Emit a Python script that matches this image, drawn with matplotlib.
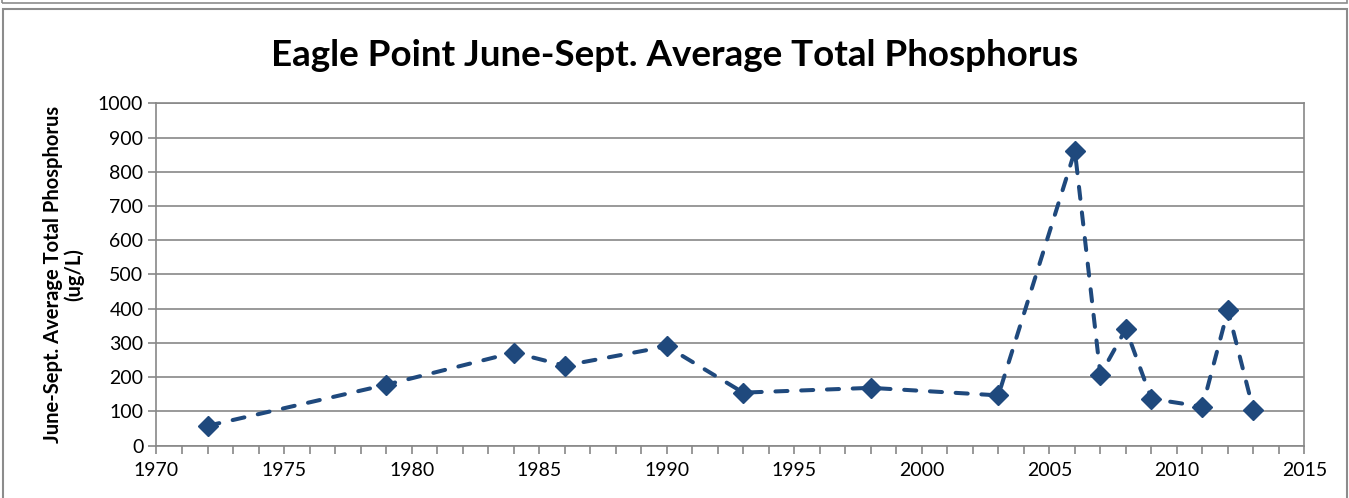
import matplotlib
matplotlib.use("Agg")
import matplotlib.pyplot as plt
from matplotlib.patches import Rectangle

years = [1972, 1979, 1984, 1986, 1990, 1993, 1998, 2003, 2006, 2007, 2008, 2009, 2011, 2012, 2013]
phosphorus = [58, 178, 272, 234, 290, 155, 169, 147, 861, 207, 341, 137, 114, 396, 103]

title = "Eagle Point June-Sept. Average Total Phosphorus"
ylabel = "June-Sept. Average Total Phosphorus\n(ug/L)"
line_color = "#1F497D"
grid_color = "#888888"

plt.rcParams["font.family"] = ["Lato", "DejaVu Sans"]

fig = plt.figure(figsize=(13.49, 4.98), dpi=100)
ax = fig.add_axes([0.1160, 0.105, 0.8510, 0.6876])

ax.plot(years, phosphorus, color=line_color, linewidth=2.9,
        linestyle=(0, (3.0, 3.4)), dash_capstyle="round", zorder=3)
ax.plot(years, phosphorus, linestyle="none", marker="D", markersize=10.5,
        color=line_color, zorder=4)

ax.set_xlim(1970, 2015)
ax.set_ylim(0, 1000)
ax.set_xticks(range(1970, 2016, 5))
ax.set_xticks(range(1970, 2016, 1), minor=True)
ax.set_yticks(range(0, 1001, 100))
ax.yaxis.grid(True, color=grid_color, linewidth=1.2)
ax.set_axisbelow(True)

for s in ax.spines.values():
    s.set_color(grid_color)
    s.set_linewidth(1.2)

ax.tick_params(axis="both", which="both", direction="out", color=grid_color,
               width=1.2, length=6, labelsize=14)
ax.tick_params(axis="x", pad=6)

ax.set_ylabel(ylabel, fontsize=14.5, fontweight="bold", linespacing=1.0, labelpad=10)
fig.text(0.5, 1 - 55 / 498, title, fontsize=26.5, fontweight="bold",
         ha="center", va="center")

# chart frames
fig.add_artist(Rectangle((0.0015, 1 - 3.5 / 498), 0.997, 0.02, transform=fig.transFigure,
                         fill=False, edgecolor="#8c8c8c", linewidth=1.2))
fig.add_artist(Rectangle((3 / 1349, -0.01), 1344 / 1349, 1 - 9.5 / 498 + 0.01,
                         transform=fig.transFigure, fill=False,
                         edgecolor="#8c8c8c", linewidth=1.5))

fig.savefig("out.png", dpi=100)
